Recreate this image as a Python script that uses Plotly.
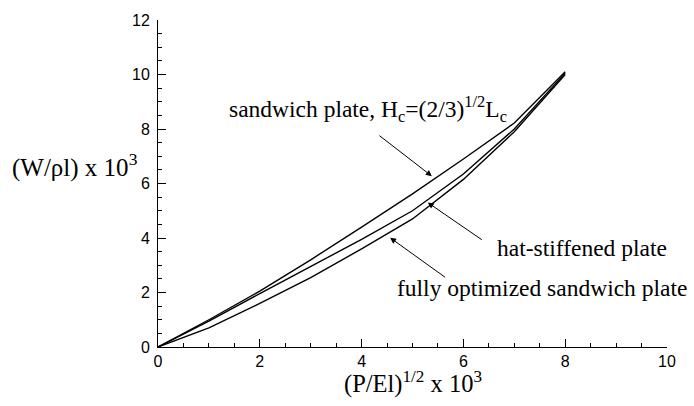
import plotly.graph_objects as go

# Non-dimensional load index (P/EI)^1/2 x 10^3
load_index = [0, 1, 2, 3, 4, 5, 6, 7, 8]

# Weight index (W/rho l) x 10^3 for each plate concept
sandwich_hc = [0, 1.0, 2.05, 3.2, 4.4, 5.62, 6.9, 8.22, 10.1]
hat_stiffened = [0, 0.95, 1.96, 2.95, 3.95, 5.0, 6.35, 8.0, 10.05]
fully_optimized = [0, 0.7, 1.6, 2.55, 3.6, 4.7, 6.15, 7.9, 10.0]

series = [
    ("sandwich plate, Hc=(2/3)^1/2 Lc", sandwich_hc),
    ("hat-stiffened plate", hat_stiffened),
    ("fully optimized sandwich plate", fully_optimized),
]

SERIF = "Liberation Serif, Times New Roman, serif"
SANS = "Liberation Sans, Arial, Helvetica, sans-serif"

fig = go.Figure()
for name, vals in series:
    fig.add_trace(go.Scatter(
        x=load_index, y=vals, mode="lines", name=name,
        line=dict(color="black", width=1.4), showlegend=False,
    ))

axis_common = dict(
    showline=True, linecolor="black", linewidth=1,
    ticks="inside", ticklen=8, tickwidth=1, tickcolor="black",
    showgrid=False, zeroline=False, dtick=2,
    tickfont=dict(family=SANS, size=16, color="black"),
    minor=dict(ticks="inside", ticklen=4, tickwidth=1, tickcolor="black", dtick=0.5, showgrid=False),
    mirror=False,
)

fig.update_xaxes(range=[0, 10], **axis_common)
fig.update_yaxes(range=[0, 12], ticklabelstandoff=4, **axis_common)

# Curve labels with leader arrows (data coordinates)
labels = [
    dict(text="sandwich plate, H<sub>c</sub>=(2/3)<sup>1/2</sup>L<sub>c</sub>", x=1.36, y=8.72, size=23.5,
         head=(5.38, 6.27), tail=(4.32, 7.80)),
    dict(text="hat-stiffened plate", x=6.63, y=3.62, size=23.5,
         head=(5.30, 5.30), tail=(6.39, 3.90)),
    dict(text="fully optimized sandwich plate", x=4.66, y=2.15, size=23.5,
         head=(4.56, 4.01), tail=(5.67, 2.52)),
]
for lab in labels:
    fig.add_annotation(
        x=lab["x"], y=lab["y"], xref="x", yref="y", text=lab["text"],
        showarrow=False, xanchor="left", yanchor="middle",
        font=dict(family=SERIF, size=lab["size"], color="black"),
    )
    fig.add_annotation(
        x=lab["head"][0], y=lab["head"][1], ax=lab["tail"][0], ay=lab["tail"][1],
        xref="x", yref="y", axref="x", ayref="y", text="",
        showarrow=True, arrowhead=2, arrowsize=1.2, arrowwidth=1, arrowcolor="black",
        standoff=0, startstandoff=0,
    )

# Axis titles
fig.add_annotation(
    x=-0.29, y=0.555, xref="paper", yref="paper", xanchor="left", yanchor="middle",
    text="(W/\u03c1l) x 10<sup>3</sup>", showarrow=False,
    font=dict(family=SERIF, size=25, color="black"),
)
fig.add_annotation(
    x=0.5, y=-0.11, xref="paper", yref="paper", xanchor="center", yanchor="middle",
    text="(P/El)<sup>1/2</sup> x 10<sup>3</sup>", showarrow=False,
    font=dict(family=SERIF, size=24.5, color="black"),
)

fig.update_layout(
    width=694, height=406,
    margin=dict(l=158, r=27, t=18, b=59),
    paper_bgcolor="white", plot_bgcolor="white",
)

fig.write_html("out.html")
